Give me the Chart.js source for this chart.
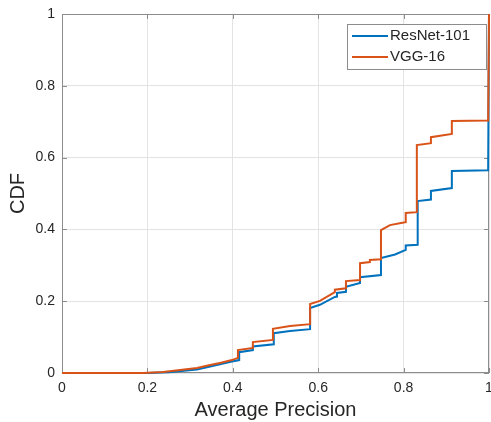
<!DOCTYPE html>
<html>
<head>
<meta charset="utf-8">
<script src="https://cdn.jsdelivr.net/npm/chart.js@4.4.1/dist/chart.umd.min.js"></script>
<style>
  body { margin: 0; background: #fff; }
  #wrap { width: 491px; height: 422px; }
</style>
</head>
<body>
<div id="wrap"><canvas id="cdf" width="491" height="422"></canvas></div>
<script>
const xTicks = [0, 0.2, 0.4, 0.6, 0.8, 1];
const yTicks = [0, 0.2, 0.4, 0.6, 0.8, 1];

const resnetX = [0, 0.2, 0.25, 0.316, 0.347, 0.370, 0.398, 0.415, 0.415, 0.447, 0.447, 0.496, 0.496, 0.534, 0.581, 0.581,
  0.604, 0.639, 0.644, 0.644, 0.665, 0.665, 0.698, 0.698, 0.747, 0.747, 0.780, 0.805, 0.805, 0.833, 0.833,
  0.864, 0.864, 0.913, 0.913, 0.998, 1];
const resnetY = [0, 0, 0.002, 0.010, 0.018, 0.024, 0.032, 0.036, 0.058, 0.064, 0.074, 0.080, 0.111, 0.117, 0.122, 0.181,
  0.190, 0.212, 0.213, 0.223, 0.226, 0.240, 0.251, 0.267, 0.273, 0.320, 0.330, 0.343, 0.355, 0.357, 0.479,
  0.483, 0.507, 0.515, 0.563, 0.565, 1];

const vggX = [0, 0.19, 0.237, 0.316, 0.347, 0.370, 0.398, 0.412, 0.412, 0.447, 0.447, 0.494, 0.494, 0.534, 0.581, 0.581,
  0.604, 0.639, 0.639, 0.665, 0.665, 0.698, 0.698, 0.721, 0.721, 0.747, 0.747, 0.768, 0.794, 0.805, 0.805,
  0.831, 0.831, 0.864, 0.864, 0.913, 0.913, 0.998, 1];
const vggY = [0, 0, 0.003, 0.014, 0.022, 0.028, 0.036, 0.042, 0.064, 0.070, 0.086, 0.092, 0.123, 0.131, 0.136, 0.192,
  0.201, 0.225, 0.232, 0.236, 0.256, 0.259, 0.306, 0.309, 0.315, 0.317, 0.398, 0.412, 0.418, 0.420, 0.446,
  0.448, 0.635, 0.640, 0.657, 0.666, 0.702, 0.703, 1];

const toPoints = (xs, ys) => xs.map((x, i) => ({ x: x, y: ys[i] }));

const axisColor = '#8c8c8c';
const textColor = '#262626';
const font = 'Liberation Sans, Arial, Helvetica, sans-serif';

// MATLAB style box with inward ticks (under the lines), legend on top
const boxPlugin = {
  id: 'box',
  beforeDatasetsDraw(chart) {
    const { ctx, chartArea: a, scales } = chart;
    ctx.save();
    ctx.strokeStyle = axisColor;
    ctx.lineWidth = 1;
    ctx.strokeRect(a.left + 0.5, a.top + 0.5, a.right - a.left - 1, a.bottom - a.top - 1);
    ctx.beginPath();
    xTicks.forEach(v => {
      const px = Math.round(scales.x.getPixelForValue(v)) + 0.5;
      ctx.moveTo(px, a.bottom); ctx.lineTo(px, a.bottom - 5);
      ctx.moveTo(px, a.top); ctx.lineTo(px, a.top + 5);
    });
    yTicks.forEach(v => {
      const py = Math.round(scales.y.getPixelForValue(v)) + 0.5;
      ctx.moveTo(a.left, py); ctx.lineTo(a.left + 5, py);
      ctx.moveTo(a.right, py); ctx.lineTo(a.right - 5, py);
    });
    ctx.stroke();
    ctx.restore();
  },
  afterDraw(chart) {
    const ctx = chart.ctx;
    ctx.save();
    const bx = 347, by = 24, bw = 139, bh = 45;
    ctx.fillStyle = '#fff';
    ctx.fillRect(bx, by, bw, bh);
    ctx.strokeStyle = '#8c8c8c';
    ctx.lineWidth = 1;
    ctx.strokeRect(bx + 0.5, by + 0.5, bw, bh);
    ctx.font = '15px ' + font;
    ctx.textBaseline = 'middle';
    chart.data.datasets.forEach((ds, i) => {
      const y = by + 12 + i * 21;
      ctx.strokeStyle = ds.borderColor;
      ctx.lineWidth = 2;
      ctx.beginPath();
      ctx.moveTo(bx + 5, y); ctx.lineTo(bx + 41, y);
      ctx.stroke();
      ctx.fillStyle = textColor;
      ctx.fillText(ds.label, bx + 43, y);
    });
    ctx.restore();
  }
};

new Chart(document.getElementById('cdf'), {
  type: 'scatter',
  data: {
    datasets: [
      {
        label: 'ResNet-101',
        data: toPoints(resnetX, resnetY),
        borderColor: '#0072BD',
        order: 1
      },
      {
        label: 'VGG-16',
        data: toPoints(vggX, vggY),
        borderColor: '#D95319',
        order: 0
      }
    ]
  },
  options: {
    responsive: false,
    animation: false,
    layout: { padding: { top: 14, right: 2, left: 0, bottom: 0 } },
    elements: {
      line: { borderWidth: 2, tension: 0 },
      point: { radius: 0, hoverRadius: 0 }
    },
    datasets: { scatter: { showLine: true, clip: false } },
    plugins: {
      legend: { display: false },
      tooltip: { enabled: false }
    },
    scales: {
      x: {
        type: 'linear',
        min: 0, max: 1,
        afterFit: s => { s.height = 49; s.paddingRight = 0; s.paddingLeft = 0; },
        afterBuildTicks: s => { s.ticks = xTicks.map(v => ({ value: v })); },
        grid: { color: '#e3e3e3', drawTicks: false },
        border: { display: false },
        ticks: {
          padding: 7,
          color: textColor,
          font: { family: font, size: 14 },
          callback: v => String(v)
        },
        title: {
          display: true,
          text: 'Average Precision',
          color: textColor,
          font: { family: font, size: 20 },
          padding: { top: 0, bottom: 0 }
        }
      },
      y: {
        type: 'linear',
        min: 0, max: 1,
        afterFit: s => { s.width = 62; s.paddingTop = 0; s.paddingBottom = 0; },
        afterBuildTicks: s => { s.ticks = yTicks.map(v => ({ value: v })); },
        grid: { color: '#e3e3e3', drawTicks: false },
        border: { display: false },
        ticks: {
          padding: 7,
          color: textColor,
          font: { family: font, size: 14 },
          callback: v => String(v)
        },
        title: {
          display: true,
          text: 'CDF',
          color: textColor,
          font: { family: font, size: 20 },
          padding: { top: 6, bottom: 0 }
        }
      }
    }
  },
  plugins: [boxPlugin]
});
</script>
</body>
</html>
